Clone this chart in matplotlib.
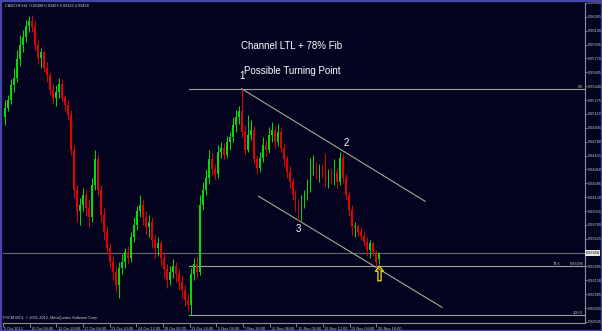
import numpy as np
import matplotlib
matplotlib.use("Agg")
import matplotlib.pyplot as plt
import matplotlib.transforms as mtrans
from matplotlib.path import Path
from matplotlib.patches import Rectangle

plt.rcParams['font.family'] = ['Liberation Sans', 'DejaVu Sans']

symbol = "CADCHF,H4"

# H4 candles, 5 Oct 2012 .. 26 Nov 2012
opens = [
    0.9507, 0.9518, 0.9528, 0.9546, 0.9554, 0.9576, 0.9593, 0.9602, 0.9616, 0.9621,
    0.9614, 0.9593, 0.9578, 0.9585, 0.9566, 0.9557, 0.9540, 0.9530, 0.9537, 0.9547,
    0.9530, 0.9522, 0.9510, 0.9468, 0.9421, 0.9395, 0.9403, 0.9415, 0.9399, 0.9388,
    0.9427, 0.9457, 0.9421, 0.9391, 0.9371, 0.9352, 0.9335, 0.9323, 0.9308, 0.9328,
    0.9335, 0.9347, 0.9340, 0.9364, 0.9379, 0.9395, 0.9403, 0.9388, 0.9376, 0.9383,
    0.9361, 0.9352, 0.9357, 0.9340, 0.9326, 0.9314, 0.9323, 0.9330, 0.9320, 0.9311,
    0.9302, 0.9290, 0.9284, 0.9320, 0.9332, 0.9323, 0.9403, 0.9421, 0.9435, 0.9457,
    0.9445, 0.9439, 0.9466, 0.9471, 0.9462, 0.9478, 0.9483, 0.9498, 0.9507, 0.9514,
    0.9490, 0.9468, 0.9486, 0.9492, 0.9457, 0.9447, 0.9459, 0.9474, 0.9468, 0.9486,
    0.9492, 0.9478, 0.9490, 0.9471, 0.9457, 0.9442, 0.9430, 0.9415, 0.9403, 0.9392,
    0.9407, 0.9415, 0.9423, 0.9445, 0.9451, 0.9439, 0.9447, 0.9442, 0.9430, 0.9439,
    0.9435, 0.9442, 0.9430, 0.9459, 0.9435, 0.9415, 0.9397, 0.9376, 0.9378, 0.9371,
    0.9366, 0.9359, 0.9349, 0.9357, 0.9347, 0.93388,
]
highs = [
    0.9528, 0.9534, 0.9552, 0.9566, 0.9587, 0.9605, 0.9611, 0.9623, 0.9627, 0.9629,
    0.9621, 0.9599, 0.9590, 0.9587, 0.9573, 0.9561, 0.9547, 0.9545, 0.9554, 0.9552,
    0.9534, 0.9528, 0.9516, 0.9474, 0.9427, 0.9411, 0.9423, 0.9421, 0.9409, 0.9435,
    0.9468, 0.9462, 0.9426, 0.9399, 0.9378, 0.9357, 0.9342, 0.9330, 0.9335, 0.9344,
    0.9352, 0.9354, 0.9371, 0.9388, 0.9402, 0.9415, 0.9409, 0.9395, 0.9391, 0.9388,
    0.9367, 0.9364, 0.9361, 0.9347, 0.9333, 0.9330, 0.9338, 0.9335, 0.9326, 0.9319,
    0.9308, 0.9297, 0.9328, 0.9340, 0.9342, 0.9415, 0.9430, 0.9445, 0.9468, 0.9466,
    0.9452, 0.9474, 0.9478, 0.9476, 0.9485, 0.9490, 0.9507, 0.9516, 0.9521, 0.9541,
    0.9498, 0.9510, 0.9504, 0.9497, 0.9462, 0.9466, 0.9483, 0.9480, 0.9495, 0.9501,
    0.9497, 0.9499, 0.9495, 0.9476, 0.9461, 0.9449, 0.9435, 0.9421, 0.9409, 0.9414,
    0.9421, 0.9433, 0.9459, 0.9462, 0.9454, 0.9452, 0.9451, 0.9465, 0.9445, 0.9447,
    0.9457, 0.9447, 0.9466, 0.9464, 0.9439, 0.9418, 0.9403, 0.9383, 0.9380, 0.9376,
    0.9371, 0.9364, 0.9361, 0.9359, 0.9349, 0.93463,
]
lows = [
    0.9498, 0.9514, 0.9523, 0.9537, 0.9549, 0.9568, 0.9585, 0.9597, 0.9609, 0.9608,
    0.9587, 0.9570, 0.9566, 0.9561, 0.9549, 0.9533, 0.9523, 0.9521, 0.9530, 0.9526,
    0.9514, 0.9504, 0.9462, 0.9411, 0.9383, 0.9379, 0.9395, 0.9390, 0.9376, 0.9383,
    0.9421, 0.9414, 0.9383, 0.9361, 0.9344, 0.9328, 0.9314, 0.9299, 0.9292, 0.9321,
    0.9328, 0.9333, 0.9335, 0.9359, 0.9373, 0.9388, 0.9379, 0.9367, 0.9364, 0.9352,
    0.9340, 0.9342, 0.9330, 0.9316, 0.9304, 0.9307, 0.9316, 0.9311, 0.9302, 0.9292,
    0.9283, 0.9276, 0.9272, 0.9314, 0.9316, 0.9319, 0.9397, 0.9414, 0.9428, 0.9438,
    0.9433, 0.9435, 0.9459, 0.9457, 0.9459, 0.9468, 0.9478, 0.9490, 0.9499, 0.9483,
    0.9462, 0.9466, 0.9480, 0.9451, 0.9439, 0.9442, 0.9454, 0.9461, 0.9464, 0.9478,
    0.9471, 0.9473, 0.9466, 0.9449, 0.9435, 0.9423, 0.9409, 0.9395, 0.9385, 0.9384,
    0.9399, 0.9409, 0.9418, 0.9438, 0.9433, 0.9430, 0.9435, 0.9424, 0.9423, 0.9428,
    0.9426, 0.9423, 0.9427, 0.9429, 0.9409, 0.9389, 0.9367, 0.9365, 0.9366, 0.9361,
    0.9354, 0.9342, 0.9340, 0.9342, 0.9329, 0.93322,
]
closes = [
    0.9518, 0.9528, 0.9546, 0.9554, 0.9576, 0.9593, 0.9602, 0.9616, 0.9621, 0.9614,
    0.9593, 0.9578, 0.9585, 0.9566, 0.9557, 0.9540, 0.9530, 0.9537, 0.9547, 0.9530,
    0.9522, 0.9510, 0.9468, 0.9421, 0.9395, 0.9403, 0.9415, 0.9399, 0.9388, 0.9427,
    0.9457, 0.9421, 0.9391, 0.9371, 0.9352, 0.9335, 0.9323, 0.9308, 0.9328, 0.9335,
    0.9347, 0.9340, 0.9364, 0.9379, 0.9395, 0.9403, 0.9388, 0.9376, 0.9383, 0.9361,
    0.9352, 0.9357, 0.9340, 0.9326, 0.9314, 0.9323, 0.9330, 0.9320, 0.9311, 0.9302,
    0.9290, 0.9284, 0.9320, 0.9332, 0.9323, 0.9403, 0.9421, 0.9435, 0.9457, 0.9445,
    0.9439, 0.9466, 0.9471, 0.9462, 0.9478, 0.9483, 0.9498, 0.9507, 0.9514, 0.9490,
    0.9468, 0.9486, 0.9492, 0.9457, 0.9447, 0.9459, 0.9474, 0.9468, 0.9486, 0.9492,
    0.9478, 0.9490, 0.9471, 0.9457, 0.9442, 0.9430, 0.9415, 0.9403, 0.9392, 0.9407,
    0.9415, 0.9423, 0.9445, 0.9451, 0.9439, 0.9447, 0.9442, 0.9430, 0.9439, 0.9435,
    0.9442, 0.9430, 0.9459, 0.9435, 0.9415, 0.9397, 0.9376, 0.9378, 0.9371, 0.9366,
    0.9359, 0.9349, 0.9357, 0.9347, 0.9335, 0.93458,
]

price_ticks = [0.96430, 0.96265, 0.96100, 0.95935, 0.95770, 0.95605, 0.95440, 0.95275,
               0.95110, 0.94945, 0.94780, 0.94615, 0.94450, 0.94285, 0.94120, 0.93955,
               0.93790, 0.93625, 0.93460, 0.93295, 0.93130, 0.92965, 0.92800, 0.92635]
date_labels = ["5 Oct 2012", "10 Oct 04:00", "12 Oct 20:00", "17 Oct 08:00", "21 Oct 20:00",
               "24 Oct 12:00", "29 Oct 00:00", "31 Oct 16:00", "5 Nov 04:00", "7 Nov 20:00",
               "12 Nov 08:00", "15 Nov 00:00", "19 Nov 12:00", "22 Nov 04:00", "26 Nov 16:00"]

# drawn objects: fib from swing low (bar 62) to swing high (bar 79), channel lines
fib_low_bar, fib_high_bar = 62, 79
fib_levels = [0.0, 78.6, 100.0]
upper_channel = ([79, 140.3], [0.9541, 0.9407])
lower_channel = ([84.7, 145.9], [0.9413, 0.9281])

o = np.array(opens); h = np.array(highs); l = np.array(lows); c = np.array(closes)
idx = np.arange(len(c))

bg = '#03031f'
small = 2.8
txt = '#c8c8c8'
fig = plt.figure(figsize=(6.02, 3.31), dpi=100, facecolor=bg)
ax = fig.add_axes([3 / 602, 8.3 / 331, 582 / 602, 319.7 / 331], facecolor=bg)
ax.set_xlim(-1 / 3, 581 / 3)
ax.set_ylim(0.92626, 0.96430)

up = c >= o
cols = np.where(up, '#00e000', '#e80000')
ax.vlines(idx, l, h, colors=cols, linewidth=0.7, zorder=3)
ax.bar(idx, np.maximum(np.abs(c - o), 0.00003), bottom=np.minimum(o, c), width=0.62,
       color=cols, linewidth=0, zorder=3)

# fibonacci retracement
hi = h[fib_high_bar]; lo = l[fib_low_bar]
x0 = fib_low_bar - 0.6
for lev in fib_levels:
    p = hi - (hi - lo) * lev / 100
    ax.plot([x0, 193.7], [p, p], color='#a0a0a0', lw=0.8, zorder=2)
yt = ax.get_yaxis_transform()
ax.text(0.997, hi, "0.0", transform=yt, ha='right', va='bottom', fontsize=small, color=txt)
p786 = hi - (hi - lo) * 0.786
ax.text(0.945, p786, "78.6", transform=yt, ha='left', va='bottom', fontsize=small, color=txt)
ax.text(0.998, p786, f"{p786:.5f}", transform=yt, ha='right', va='bottom',
        fontsize=small, color=txt)
ax.text(0.995, lo, "100.0", transform=yt, ha='right', va='bottom', fontsize=small, color=txt)

# current price line
ax.axhline(c[-1], color='#6a6a6a', lw=0.8, zorder=1)

# channel
ax.plot(*upper_channel, color='#a8a890', lw=0.8, zorder=2)
ax.plot(*lower_channel, color='#a8a890', lw=0.8, zorder=2)

# annotations
ax.text(0.4966, 0.8655, "Channel LTL + 78% Fib", transform=ax.transAxes, ha='center',
        va='center', color='white', fontsize=7)
ax.text(0.4966, 0.7873, "Possible Turning Point", transform=ax.transAxes, ha='center',
        va='center', color='white', fontsize=7)
ax.annotate("1", (79, h[79]), xytext=(0, 5.5), textcoords='offset points', ha='center',
            va='bottom', color='white', fontsize=7)
ax.annotate("2", (112, h[112]), xytext=(4, 3), textcoords='offset points', ha='center',
            va='bottom', color='white', fontsize=7)
ax.annotate("3", (98, l[98]), xytext=(0, -3), textcoords='offset points', ha='center',
            va='top', color='white', fontsize=7)

arrow = Path([(0, 1), (0.55, 0.3), (0.22, 0.3), (0.22, -1), (-0.22, -1), (-0.22, 0.3),
              (-0.55, 0.3), (0, 1)],
             [Path.MOVETO] + [Path.LINETO] * 6 + [Path.CLOSEPOLY])
ax.plot([125], [l[-1] - 0.0011], marker=arrow, markersize=10.5, markerfacecolor='none',
        markeredgecolor='#e0d000', markeredgewidth=1.0, zorder=5)

# axes styling
for s in ['top', 'left']:
    ax.spines[s].set_visible(False)
for s in ['right', 'bottom']:
    ax.spines[s].set_color('#909090')
    ax.spines[s].set_linewidth(0.8)

ax.yaxis.tick_right()
shown = [t for t in price_ticks if abs(t - c[-1]) > 0.0005]
ax.set_yticks(shown)
ax.set_yticklabels([f"{t:.5f}" for t in shown])
ax.tick_params(axis='y', length=1.5, width=0.6, color='#909090', pad=0.4, labelsize=small,
               labelcolor=txt)
ax.text(1.001, c[-1], f"{c[-1]:.5f}", transform=yt, ha='left', va='center',
        fontsize=small, color='black',
        bbox=dict(boxstyle='square,pad=0.2', fc='#e8e8e8', ec='none'))

xt = (2 + 26.7 * np.arange(len(date_labels)) - 4) / 3
ax.set_xticks(xt)
ax.set_xticklabels(date_labels, ha='left')
ax.tick_params(axis='x', length=3, width=0.6, color='#909090', pad=0.3, labelsize=small,
               labelcolor=txt)
for lab in ax.get_xticklabels():
    lab.set_transform(lab.get_transform() + mtrans.ScaledTranslation(1.5 / 100, 0, fig.dpi_scale_trans))

fig.text(5 / 602, 1 - 5.5 / 331,
         f"{symbol}  {o[-1]:.5f} {h[-1]:.5f} {l[-1]:.5f} {c[-1]:.5f}",
         ha='left', va='center', fontsize=small, color='#d0d0d0')
fig.text(3 / 602, 1 - 318.5 / 331, "FXCM MT4, \u00a9 2001-2012, MetaQuotes Software Corp.",
         ha='left', va='center', fontsize=small, color='#d0d0d0')

fig.patches.append(Rectangle((0, 0), 1, 1, transform=fig.transFigure, fill=False,
                             edgecolor='#4646a6', linewidth=2.4))

fig.savefig("out.png", dpi=100, facecolor=bg)
